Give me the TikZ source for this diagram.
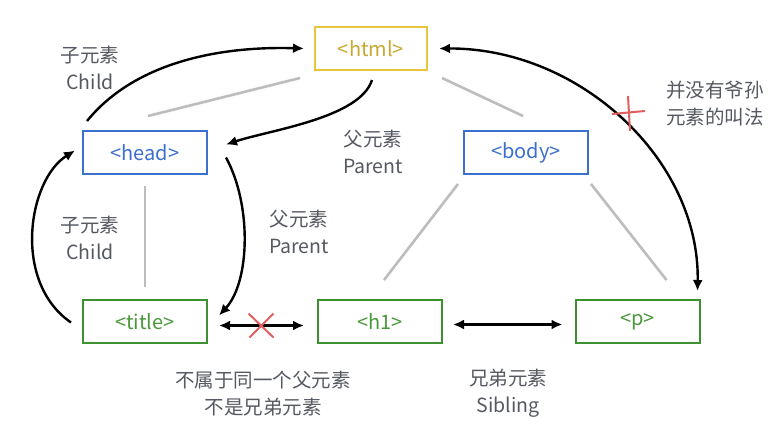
\documentclass[tikz,border=0pt]{standalone}
\usepackage{fontspec}
\setmainfont{Noto Sans CJK SC}
\usetikzlibrary{arrows.meta,calc}
\definecolor{cyel}{HTML}{E8C53A}
\definecolor{cyelt}{HTML}{C9A930}
\definecolor{cblue}{HTML}{3B6FD0}
\definecolor{cgreen}{HTML}{3D9130}
\definecolor{cgreent}{HTML}{4A9A3C}
\definecolor{clab}{HTML}{555961}
\definecolor{cgrayl}{HTML}{BDBDBD}
\definecolor{cred}{HTML}{E06060}
\tikzset{
  tagbox/.style={draw, line width=2pt, minimum height=43pt, minimum width=124pt, inner sep=0pt, font=\fontsize{20}{22}\selectfont},
  yelbox/.style={tagbox, draw=cyel, text=cyelt, minimum width=112pt},
  bluebox/.style={tagbox, draw=cblue, text=cblue},
  greenbox/.style={tagbox, draw=cgreen, text=cgreent},
  lab/.style={text=clab, align=center, font=\fontsize{19.5}{27}\selectfont, inner sep=0pt},
  tree/.style={draw=cgrayl, line width=2.6pt},
  rel/.style={draw=black, line width=2.4pt, -{Latex[length=11pt,width=10pt]}},
  relboth/.style={draw=black, line width=2.4pt, {Latex[length=11pt,width=10pt]}-{Latex[length=11pt,width=10pt]}},
  nomark/.style={draw=cred, line width=2pt}
}
\begin{document}
\begin{tikzpicture}[x=1pt,y=-1pt]
\useasboundingbox[fill=white] (0,0) rectangle (768,442);
% boxes
\node[yelbox] (html) at (371,48.5) {<html>};
\node[bluebox] (head) at (145,152.5) {<head>};
\node[bluebox] (body) at (526,152.5) {<body>};
\node[greenbox] (title) at (145,321.5) {<title>};
\node[greenbox] (h1) at (380,321.5) {<h1>};
\node[greenbox] (p) at (637.5,321.5) {<p>};
% tree lines
\draw[tree] ($(html.south west)+(-14,7)$) -- ($(head.north)+(3,-14)$);
\draw[tree] ($(html.south east)+(14,7)$) -- ($(body.north)+(-3,-14)$);
\draw[tree] ($(head.south)+(0,11)$) -- ($(title.north)+(0,-12)$);
\draw[tree] ($(body.south west)+(-5,9)$) -- ($(h1.north)+(4,-19)$);
\draw[tree] ($(body.south east)+(2,9)$) -- ($(p.north)+(29,-19)$);
% relation arrows
\draw[rel] ($(head.north west)+(5,-9)$) .. controls (135,62) and (220,46) .. ($(html.west)+(-10,0)$);
\draw[rel] ($(html.south)+(1,9)$) .. controls (360,118) and (270,130) .. ($(head.east)+(18,-8)$);
\draw[rel] ($(title.west)+(-11,1)$) .. controls (12,282) and (28,180) .. ($(head.west)+(-7,-2)$);
\draw[rel] ($(head.east)+(18,5)$) .. controls (252,205) and (250,282) .. ($(title.east)+(11,-6)$);
\draw[relboth] ($(title.east)+(11,4)$) -- coordinate (xm) ($(h1.west)+(-13,4)$);
\draw[relboth] ($(h1.east)+(10,3)$) -- ($(p.west)+(-12,3)$);
\draw[relboth] ($(html.east)+(11,0)$) .. controls (580,48) and (700,160) .. ($(p.north east)+(-3,-8)$);
% red marks
\draw[nomark] ($(xm)+(-13,-12)$) -- ($(xm)+(12,12)$);
\draw[nomark] ($(xm)+(-12,12)$) -- ($(xm)+(12,-12)$);
\coordinate (cm) at (629,113);
\draw[nomark] ($(cm)+(-17,1)$) -- ($(cm)+(16,-2)$);
\draw[nomark] ($(cm)+(-1,-17)$) -- ($(cm)+(1,18)$);
% labels
\node[lab] (l1) at (90,68) {子元素\\Child};
\node[lab] (l2) at (373,152) {父元素\\Parent};
\node[lab] (l3) at (90,238) {子元素\\Child};
\node[lab] (l4) at (299,232) {父元素\\Parent};
\node[lab] (l5) at (263,394) {不属于同一个父元素\\不是兄弟元素};
\node[lab] (l6) at (508,393) {兄弟元素\\Sibling};
\node[lab, anchor=west, align=left] (l7) at (666,104) {并没有爷孙\\元素的叫法};
\end{tikzpicture}
\end{document}
